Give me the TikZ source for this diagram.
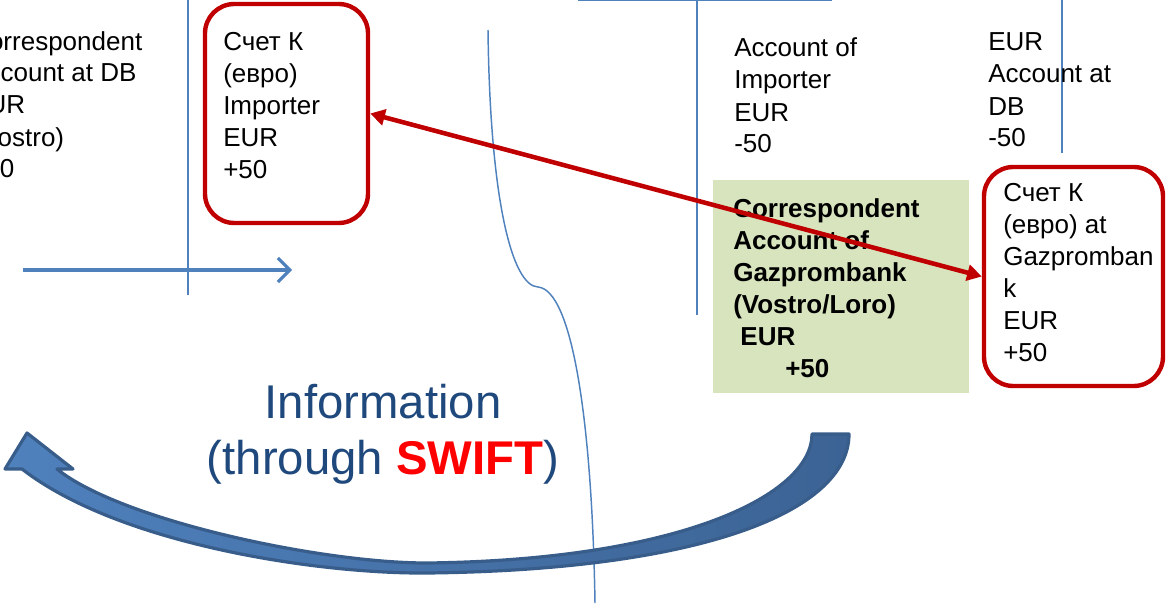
\documentclass[tikz,border=0pt]{standalone}
\usepackage{fontspec}
\setmainfont{Liberation Sans}
\usetikzlibrary{arrows.meta}
\definecolor{lineblue}{RGB}{79,129,189}
\definecolor{boxred}{RGB}{192,0,0}
\definecolor{boxgreen}{RGB}{215,228,189}
\definecolor{infoblue}{RGB}{31,73,125}
\definecolor{swiftred}{RGB}{255,0,0}
\definecolor{arrowdark}{RGB}{56,93,138}
\definecolor{arrowlight}{RGB}{79,129,189}
\definecolor{arrowmid}{RGB}{60,99,148}
\begin{document}
\begin{tikzpicture}[x=0.75pt,y=-0.75pt,
  acct/.style={anchor=base west, inner sep=0pt, align=left, font=\fontsize{19.5}{24}\selectfont},
  acctbold/.style={acct, font=\fontsize{19.5}{24}\selectfont\bfseries},
  redbox/.style={draw=boxred, line width=3.3pt, rounded corners=22pt, inner sep=0pt},
  greenbox/.style={fill=boxgreen, inner sep=0pt},
  divider/.style={draw=lineblue, line width=1.5pt},
  thinline/.style={draw=lineblue, line width=1.1pt},
  bluearrow/.style={draw=lineblue, line width=2.3pt, -{Straight Barb[length=9pt,width=18pt,line width=2.3pt]}},
  redarrow/.style={draw=boxred, line width=3.4pt, {Triangle[length=11pt,width=12pt]}-{Triangle[length=11pt,width=12pt]}},
  info/.style={anchor=base, inner sep=0pt, align=center, text=infoblue, font=\fontsize{35.5}{42}\selectfont},
  bigarrow/.style={left color=arrowlight, right color=arrowmid, draw=arrowdark, line width=2.4pt, line join=round}
]
\useasboundingbox (0,0) rectangle (1167,606);
\clip (0,0) rectangle (1167,606);

% dividers
\draw[divider] (188,-2) -- (188,295);
\draw[divider] (697,-2) -- (697,315);
\draw[divider] (1062,-2) -- (1062,153);
\draw[divider] (578,0) -- (832,0);
\draw[thinline] (488,30) .. controls (490,200) and (512,286) .. (538,287)
  .. controls (572,290) and (592,420) .. (595,603);

% green box
\node[greenbox, minimum width=192pt, minimum height=159.75pt] (corr) at (841,286.5) {};

% red boxes
\node[redbox, minimum width=122.25pt, minimum height=164.25pt] (box1) at (286.5,113.5) {};
\node[redbox, minimum width=134.25pt, minimum height=164.25pt] (box2) at (1073.5,276.5) {};

% texts (anchor = baseline of the last line)
\node[acct] (tleft) at (-30,178) {Correspondent\\Account at DB\\EUR\\(Nostro)\\+50};
\node[acct] (t1) at (223,179) {Счет К\\(евро)\\Importer\\EUR\\+50};
\node[acct] (timp) at (734,153) {Account of\\Importer\\EUR\\-50};
\node[acct] (tdb) at (988,147) {EUR\\Account at\\DB\\-50};
\node[acctbold] (tcorr) at (733,377) {Correspondent\\Account of\\Gazprombank\\(Vostro/Loro)\\\hspace*{5.4pt}EUR\\\hspace*{39pt}+50};
\node[acct] (t2) at (1003,361) {Счет К\\(евро) at\\Gazpromban\\k\\EUR\\+50};

% red double arrow
\draw[redarrow] (box1.east) -- (box2.west);

% blue horizontal arrow
\coordinate (ha) at (23,270);
\coordinate (hb) at (292,270);
\draw[bluearrow] (ha) -- (hb);

% information
\node[info] (info) at (383,474) {Information\\(through \textcolor{swiftred}{\bfseries SWIFT})};

% big curved arrow
\path[bigarrow] (849,434) .. controls (849,512) and (700,570) .. (427,573)
  .. controls (320,574) and (120,545) .. (22,469)
  -- (5,469) -- (27,433) -- (73,469) -- (57,469)
  .. controls (120,520) and (320,563) .. (427,563)
  .. controls (680,560) and (812,495) .. (812,434) -- cycle;
\end{tikzpicture}
\end{document}
